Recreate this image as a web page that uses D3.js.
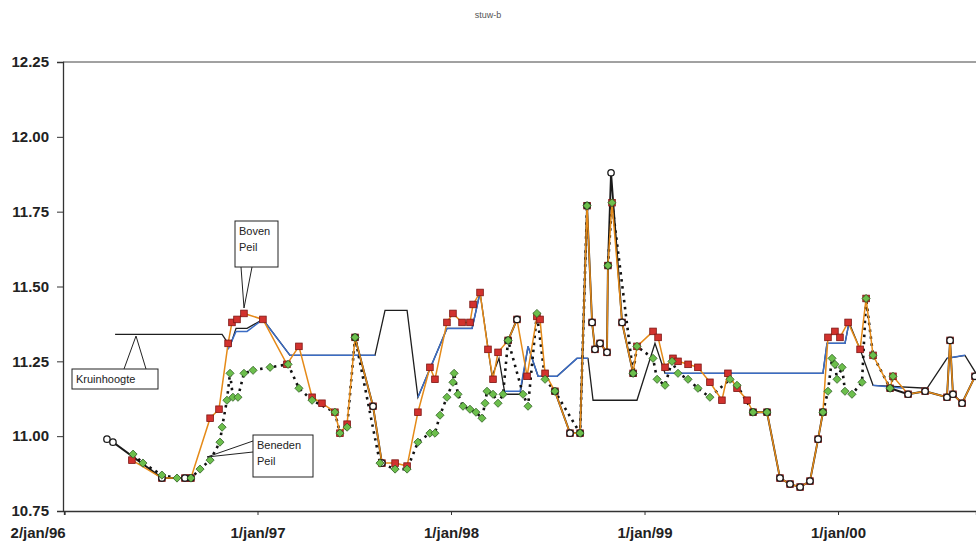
<!DOCTYPE html>
<html>
<head>
<meta charset="utf-8">
<script src="https://cdnjs.cloudflare.com/ajax/libs/d3/7.8.5/d3.min.js"></script>
<style>
  body { margin: 0; background: #fff; }
  svg { display: block; font-family: Arial, "Liberation Sans", sans-serif; }
</style>
</head>
<body>
<svg id="chart" width="976" height="545"></svg>
<script>
const title = 'stuw-b';
const yTicks = [10.75, 11.00, 11.25, 11.50, 11.75, 12.00, 12.25];
const xTicks = [1996.003, 1997, 1998, 1999, 2000];
const xTickLabels = ['2/jan/96', '1/jan/97', '1/jan/98', '1/jan/99', '1/jan/00'];

// [decimal year, level]; null = gap in the line
const kruinhoogte = [
  [1996.264, 11.34], [1996.817, 11.34], [1996.858, 11.30], [1996.889, 11.36], [1996.946, 11.36],
  [1997.028, 11.39], [1997.168, 11.27], [1997.607, 11.27], [1997.659, 11.42], [1997.773, 11.42],
  [1997.829, 11.13], [1997.979, 11.36], [1998.109, 11.36], [1998.150, 11.48], [1998.212, 11.20],
  [1998.248, 11.26], [1998.279, 11.14], [1998.357, 11.14], [1998.398, 11.30], [1998.450, 11.20],
  [1998.548, 11.20], [1998.651, 11.26], [1998.708, 11.26], [1998.734, 11.12], [1998.961, 11.12],
  [1999.054, 11.31], [1999.106, 11.21], [1999.922, 11.21], [1999.943, 11.31], [2000.036, 11.31],
  [2000.057, 11.38], [2000.114, 11.29], [2000.181, 11.17], [2000.460, 11.16], [2000.563, 11.26],
  [2000.656, 11.27], [2000.713, 11.21]
];

const stuwstand = [
  [1996.848, 11.29], [1996.889, 11.35], [1996.946, 11.35], [1997.028, 11.39], [1997.168, 11.27],
  [1997.607, 11.27], null,
  [1997.829, 11.13], [1997.979, 11.36], [1998.109, 11.36], [1998.150, 11.48], null,
  [1998.279, 11.15], [1998.357, 11.15], [1998.398, 11.30], [1998.450, 11.20], [1998.548, 11.20],
  [1998.651, 11.26], [1998.708, 11.26], null,
  [1999.106, 11.21], [1999.922, 11.21], [1999.943, 11.31], [2000.036, 11.31], [2000.057, 11.38], null,
  [2000.181, 11.17], [2000.336, 11.16], null,
  [2000.563, 11.26], [2000.656, 11.27]
];

const bovenPeil = [
  [1996.351, 10.92], [1996.506, 10.86], [1996.625, 10.86], [1996.656, 10.86], [1996.755, 11.06],
  [1996.801, 11.09], [1996.848, 11.31], [1996.868, 11.38], [1996.894, 11.39], [1996.930, 11.41],
  [1997.028, 11.39], [1997.152, 11.24], [1997.214, 11.30], [1997.282, 11.13], [1997.333, 11.11],
  [1997.400, 11.08], [1997.426, 11.01], [1997.463, 11.04], [1997.504, 11.33], [1997.597, 11.10],
  [1997.643, 10.91], [1997.711, 10.91], [1997.773, 10.90], [1997.829, 11.08], [1997.891, 11.23],
  [1997.917, 11.19], [1997.979, 11.38], [1998.010, 11.41], [1998.057, 11.38], [1998.098, 11.38],
  [1998.114, 11.44], [1998.150, 11.48], [1998.191, 11.29], [1998.217, 11.19], [1998.243, 11.28],
  [1998.295, 11.32], [1998.341, 11.39], [1998.393, 11.20], [1998.444, 11.40], [1998.460, 11.39],
  [1998.486, 11.21], [1998.537, 11.15], [1998.615, 11.01], [1998.667, 11.01], [1998.703, 11.77],
  [1998.729, 11.38], [1998.744, 11.29], [1998.770, 11.31], [1998.806, 11.28], [1998.811, 11.57],
  [1998.832, 11.78], [1998.884, 11.38], [1998.941, 11.21], [1998.961, 11.30], [1999.044, 11.35],
  [1999.070, 11.33], [1999.106, 11.23], [1999.147, 11.26], [1999.173, 11.25], [1999.225, 11.24],
  [1999.276, 11.23], [1999.338, 11.18], [1999.400, 11.12], [1999.431, 11.21], [1999.478, 11.16],
  [1999.530, 11.12], [1999.561, 11.08], [1999.633, 11.08], [1999.700, 10.86], [1999.752, 10.84],
  [1999.804, 10.83], [1999.855, 10.85], [1999.897, 10.99], [1999.922, 11.08], [1999.948, 11.33],
  [1999.984, 11.35], [2000.010, 11.33], [2000.052, 11.38], [2000.114, 11.29], [2000.145, 11.46],
  [2000.181, 11.27], [2000.269, 11.16], [2000.284, 11.20], [2000.362, 11.14], [2000.450, 11.15],
  [2000.563, 11.13], [2000.579, 11.32], [2000.594, 11.14], [2000.641, 11.11], [2000.708, 11.20]
];

const benedenPeil = [
  [1996.357, 10.94], [1996.408, 10.91], [1996.506, 10.87], [1996.584, 10.86], [1996.656, 10.86],
  [1996.703, 10.89], [1996.755, 10.92], [1996.806, 10.98], [1996.817, 11.03], [1996.842, 11.12],
  [1996.858, 11.21], [1996.873, 11.13], [1996.899, 11.13], [1996.930, 11.21], [1996.977, 11.22],
  [1997.065, 11.23], [1997.158, 11.24], [1997.214, 11.16], [1997.282, 11.12], [1997.400, 11.08],
  [1997.426, 11.01], [1997.463, 11.03], [1997.504, 11.33], [1997.633, 10.91], [1997.711, 10.89],
  [1997.773, 10.89], [1997.829, 10.98], [1997.891, 11.01], [1997.917, 11.01], [1997.943, 11.07],
  [1997.979, 11.13], [1998.010, 11.18], [1998.016, 11.21], [1998.036, 11.14], [1998.062, 11.10],
  [1998.098, 11.09], [1998.129, 11.08], [1998.160, 11.06], [1998.176, 11.11], [1998.186, 11.15],
  [1998.217, 11.14], [1998.243, 11.11], [1998.269, 11.14], [1998.295, 11.32], [1998.372, 11.14],
  [1998.398, 11.10], [1998.444, 11.41], [1998.486, 11.19], [1998.537, 11.15], [1998.667, 11.01],
  [1998.703, 11.77], null,
  [1998.811, 11.57], [1998.832, 11.78], [1998.941, 11.21], [1998.961, 11.30], [1999.044, 11.26],
  [1999.065, 11.19], [1999.106, 11.17], [1999.142, 11.25], [1999.173, 11.21], [1999.225, 11.19],
  [1999.276, 11.16], [1999.338, 11.13], [1999.442, 11.19], [1999.478, 11.17], [1999.561, 11.08],
  [1999.633, 11.08], null,
  [1999.922, 11.08], [1999.948, 11.15], [1999.969, 11.26], [1999.984, 11.24], [1999.995, 11.19],
  [2000.021, 11.23], [2000.036, 11.15], [2000.072, 11.14], [2000.124, 11.18], [2000.145, 11.46],
  [2000.181, 11.27], [2000.269, 11.16], [2000.284, 11.20]
];

// black line with open circles
const meetPeil = [
  [1996.222, 10.99], [1996.253, 10.98], [1996.506, 10.86], [1996.625, 10.86], [1996.656, 10.86], null,
  [1997.504, 11.33], [1997.597, 11.10], [1997.643, 10.91], null,
  [1998.295, 11.32], [1998.341, 11.39], null,
  [1998.537, 11.15], [1998.615, 11.01], [1998.667, 11.01], [1998.703, 11.77], [1998.729, 11.38],
  [1998.744, 11.29], [1998.770, 11.31], [1998.806, 11.28], [1998.811, 11.57], [1998.827, 11.88],
  [1998.884, 11.38], [1998.941, 11.21], null,
  [1999.561, 11.08], [1999.633, 11.08], [1999.700, 10.86], [1999.752, 10.84], [1999.804, 10.83],
  [1999.855, 10.85], [1999.897, 10.99], [1999.922, 11.08], null,
  [2000.269, 11.16], [2000.362, 11.14], [2000.450, 11.15], [2000.563, 11.13], [2000.579, 11.32],
  [2000.594, 11.14], [2000.641, 11.11], [2000.708, 11.20]
];

const svg = d3.select('#chart');
const margin = { left: 64, right: 0, top: 62, bottom: 34 };
const W = 976, H = 545;

const x = d3.scaleLinear().domain([1996, 2000.713]).range([margin.left, W - margin.right]);
const y = d3.scaleLinear().domain([10.75, 12.25]).range([H - margin.bottom, margin.top]);

svg.append('text')
  .attr('x', 488).attr('y', 18)
  .attr('text-anchor', 'middle')
  .attr('font-size', 9).attr('fill', '#555')
  .text(title);

// frame: top line, left axis, bottom axis
svg.append('line').attr('x1', x.range()[0] - 1).attr('x2', W).attr('y1', y(12.25)).attr('y2', y(12.25))
  .attr('stroke', '#444').attr('stroke-width', 1);

const yAxis = svg.append('g')
  .attr('transform', `translate(${x.range()[0] - 1},0)`)
  .call(d3.axisLeft(y).tickValues(yTicks).tickFormat(d3.format('.2f')).tickSize(6).tickPadding(8));
yAxis.select('.domain').attr('stroke', '#333').attr('stroke-width', 1.3);
yAxis.selectAll('.tick line').attr('stroke', '#333');
yAxis.selectAll('text').attr('font-size', 15).attr('font-weight', 'bold').attr('fill', '#222');

const xAxis = svg.append('g')
  .attr('transform', `translate(0,${y(10.75)})`)
  .call(d3.axisBottom(x).tickValues(xTicks).tickFormat((d, i) => xTickLabels[i]).tickSize(4).tickPadding(12));
xAxis.select('.domain').attr('stroke', '#333').attr('stroke-width', 1.3);
xAxis.selectAll('.tick line').attr('stroke', '#333');
xAxis.selectAll('text').attr('font-size', 15).attr('font-weight', 'bold').attr('fill', '#222')
  .attr('dx', (d, i) => i === 0 ? -27 : 0);

const line = d3.line()
  .defined(d => d != null)
  .x(d => x(d[0]))
  .y(d => y(d[1]));

const plot = svg.append('g');

// Kruinhoogte (black) and blue level line
plot.append('path').datum(kruinhoogte).attr('d', line)
  .attr('fill', 'none').attr('stroke', '#1e1e1e').attr('stroke-width', 1.3);
plot.append('path').datum(stuwstand).attr('d', line)
  .attr('fill', 'none').attr('stroke', '#3b6cc4').attr('stroke-width', 1.5);

// black solid series
plot.append('path').datum(meetPeil).attr('d', line)
  .attr('fill', 'none').attr('stroke', '#1a1a1a').attr('stroke-width', 1.9);

// Beneden Peil dotted
plot.append('path').datum(benedenPeil).attr('d', line)
  .attr('fill', 'none').attr('stroke', '#111').attr('stroke-width', 2.6)
  .attr('stroke-dasharray', '2.5,4.5');

// Boven Peil orange
plot.append('path').datum(bovenPeil).attr('d', line)
  .attr('fill', 'none').attr('stroke', '#e58a18').attr('stroke-width', 1.5);

plot.selectAll('.sq').data(bovenPeil.filter(d => d)).enter().append('rect')
  .attr('class', 'sq')
  .attr('x', d => x(d[0]) - 3.3).attr('y', d => y(d[1]) - 3.3)
  .attr('width', 6.6).attr('height', 6.6)
  .attr('fill', '#d2322e').attr('stroke', '#7d1512').attr('stroke-width', 0.8);

plot.selectAll('.ci').data(meetPeil.filter(d => d)).enter().append('circle')
  .attr('class', 'ci')
  .attr('cx', d => x(d[0])).attr('cy', d => y(d[1])).attr('r', 3.2)
  .attr('fill', '#fff').attr('stroke', '#1a1a1a').attr('stroke-width', 1.3);

plot.selectAll('.di').data(benedenPeil.filter(d => d)).enter().append('path')
  .attr('class', 'di')
  .attr('transform', d => `translate(${x(d[0])},${y(d[1])})`)
  .attr('d', d3.symbol(d3.symbolDiamond2, 42))
  .attr('fill', '#6cbf4c').attr('stroke', '#2e5e22').attr('stroke-width', 0.8);

// callouts
const notes = svg.append('g').attr('font-size', 11).attr('fill', '#222');

function callout(box, tip, base, lines) {
  notes.append('path')
    .attr('d', `M${base[0][0]},${base[0][1]}L${tip[0]},${tip[1]}L${base[1][0]},${base[1][1]}`)
    .attr('fill', '#fff').attr('stroke', '#222').attr('stroke-width', 1);
  notes.append('rect')
    .attr('x', box[0]).attr('y', box[1]).attr('width', box[2]).attr('height', box[3])
    .attr('fill', '#fff').attr('stroke', '#222').attr('stroke-width', 1);
  lines.forEach((t, i) => {
    notes.append('text').attr('x', box[0] + 4).attr('y', box[1] + 14 + i * 16).text(t);
  });
}

callout([235, 221, 43, 46], [244, 308], [[241, 267], [252, 267]], ['Boven', 'Peil']);
callout([72, 369, 86, 20], [136, 336], [[124, 369], [146, 369]], ['Kruinhoogte']);
callout([253, 435, 60, 42], [207, 457], [[253, 441], [253, 452]], ['Beneden', 'Peil']);
</script>
</body>
</html>
